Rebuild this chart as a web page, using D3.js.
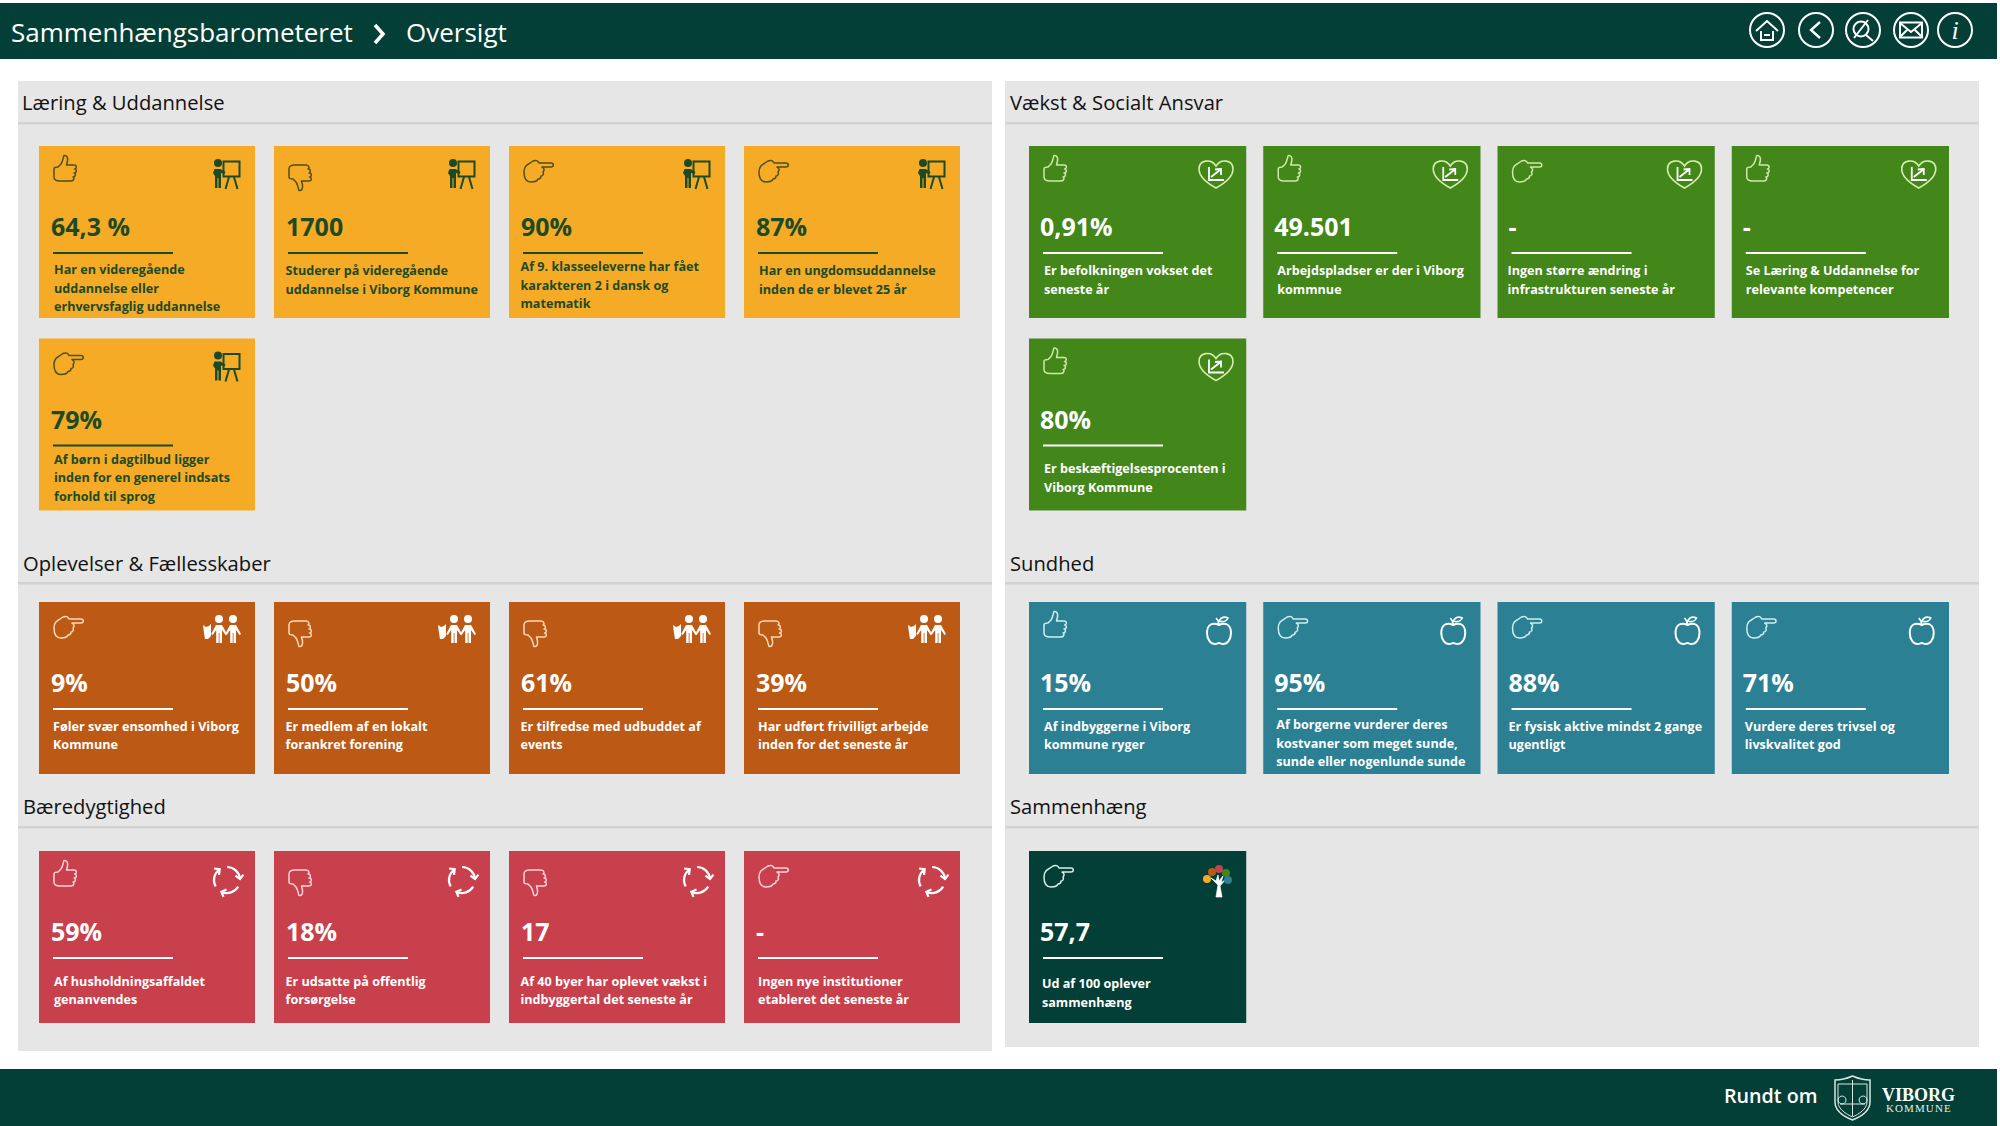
<!DOCTYPE html>
<html><head><meta charset="utf-8">
<script src="https://cdnjs.cloudflare.com/ajax/libs/d3/7.8.5/d3.min.js"></script>
<style>html,body{margin:0;padding:0;background:#fff}svg{display:block}text{font-family:"Open Sans",sans-serif}</style>
</head><body><svg id="c" width="2000" height="1126"></svg>
<script>
// ---------- data ----------
const sectionNames = ["Læring & Uddannelse","Vækst & Socialt Ansvar","Oplevelser & Fællesskaber","Sundhed","Bæredygtighed","Sammenhæng"];
const sectionTopics = ["teach","growth","people","apple","recycle","tree"];
const valuesLaering = ["64,3 %","1700","90%","87%","79%"];
const valuesVaekst = ["0,91%","49.501","-","-","80%"];
const valuesOplevelser = ["9%","50%","61%","39%"];
const valuesSundhed = ["15%","95%","88%","71%"];
const valuesBaeredygtighed = ["59%","18%","17","-"];
const valuesSammenhaeng = ["57,7"];
const handsLaering = ["up","down","right","right","right"];
const handsVaekst = ["up","up","right","up","up"];
const handsOplevelser = ["right","down","down","down"];
const handsSundhed = ["up","right","right","right"];
const handsBaeredygtighed = ["up","down","down","right"];
const handsSammenhaeng = ["right"];
const labelsLaering = [
 ["Har en videregående","uddannelse eller","erhvervsfaglig uddannelse"],
 ["Studerer på videregående","uddannelse i Viborg Kommune"],
 ["Af 9. klasseeleverne har fået","karakteren 2 i dansk og","matematik"],
 ["Har en ungdomsuddannelse","inden de er blevet 25 år"],
 ["Af børn i dagtilbud ligger","inden for en generel indsats","forhold til sprog"]];
const labelsVaekst = [
 ["Er befolkningen vokset det","seneste år"],
 ["Arbejdspladser er der i Viborg","kommnue"],
 ["Ingen større ændring i","infrastrukturen seneste år"],
 ["Se Læring & Uddannelse for","relevante kompetencer"],
 ["Er beskæftigelsesprocenten i","Viborg Kommune"]];
const labelsOplevelser = [
 ["Føler svær ensomhed i Viborg","Kommune"],
 ["Er medlem af en lokalt","forankret forening"],
 ["Er tilfredse med udbuddet af","events"],
 ["Har udført frivilligt arbejde","inden for det seneste år"]];
const labelsSundhed = [
 ["Af indbyggerne i Viborg","kommune ryger"],
 ["Af borgerne vurderer deres","kostvaner som meget sunde,","sunde eller nogenlunde sunde"],
 ["Er fysisk aktive mindst 2 gange","ugentligt"],
 ["Vurdere deres trivsel og","livskvalitet god"]];
const labelsBaeredygtighed = [
 ["Af husholdningsaffaldet","genanvendes"],
 ["Er udsatte på offentlig","forsørgelse"],
 ["Af 40 byer har oplevet vækst i","indbyggertal det seneste år"],
 ["Ingen nye institutioner","etableret det seneste år"]];
const labelsSammenhaeng = [["Ud af 100 oplever","sammenhæng"]];
const sectionValues = [valuesLaering,valuesVaekst,valuesOplevelser,valuesSundhed,valuesBaeredygtighed,valuesSammenhaeng];
const sectionHands = [handsLaering,handsVaekst,handsOplevelser,handsSundhed,handsBaeredygtighed,handsSammenhaeng];
const sectionLabels = [labelsLaering,labelsVaekst,labelsOplevelser,labelsSundhed,labelsBaeredygtighed,labelsSammenhaeng];

// ---------- style & layout ----------
const DARK="#033f36";
const fills=["#f5ab25","#43861a","#bc5a15","#2b8093","#c9404d",DARK];
const inks=["#1c4a25","#fff","#fff","#fff","#fff","#fff"];
const handInk=["#4e4f1c","#cdeaa8","#fbd9b8","#cfeef2","#fbd3d6","#d7efe6"];
const sideX=[0,1,0,1,0,1];
const rowTops=[[146,338.5],[146,338.5],[602],[602],[851],[851]];
const titleY=[110,110,571,571,814,814];
const titleX=[22,1010,23,1010,23,1010];
const labelDrop=[[128,129,125,129,125],[129,129,129,129,134.5],[128.5,128.5,128.5,128.5],[128.5,127,128.5,128.5],[134.5,134.5,134.5,134.5],[137]];
const labelInset=[[15,11.5,11.5,15,15],[15,14,10,14,15],[14,11.5,11.5,14],[15,13,11,13],[15,11.5,11.5,14],[13]];
const valueInset=[12,11,12,11,12,11];
const dividers=[123,583,827];
const cardH=172;
const xCols=[
 d3.scaleBand().domain(d3.range(4)).range([39,960]).paddingInner(19/235),
 d3.scaleBand().domain(d3.range(4)).range([1029,1949]).paddingInner(17/234)];

const svg=d3.select("#c");
// bars
svg.append("rect").attr("x",0).attr("y",3).attr("width",1997).attr("height",56).attr("fill",DARK);
svg.append("rect").attr("x",0).attr("y",1069).attr("width",1997).attr("height",57).attr("fill",DARK);
svg.append("text").attr("x",11).attr("y",42).attr("fill","#fff").attr("font-size",26).text("Sammenhængsbarometeret");
svg.append("path").attr("d","M375 25l8 9-8 9").attr("fill","none").attr("stroke","#fff").attr("stroke-width",3.5);
svg.append("text").attr("x",406).attr("y",42).attr("fill","#fff").attr("font-size",26).text("Oversigt");

// panels
[[18,974,970],[1005,974,966]].forEach(([x,w,h])=>{
 svg.append("rect").attr("x",x).attr("y",81).attr("width",w).attr("height",h).attr("fill","#e6e6e6");
 dividers.forEach(y=>svg.append("rect").attr("x",x).attr("y",y-1).attr("width",w).attr("height",2.5).attr("fill","#d2d2d2"));
});
svg.selectAll("text.sec").data(sectionNames).join("text").attr("class","sec")
 .attr("x",(d,i)=>titleX[i]).attr("y",(d,i)=>titleY[i]).attr("fill","#111").attr("font-size",20.2).text(d=>d);

// hands
const THUMB="M1 14C1 12 3 12 5 12L8 9C10 6 10 3 11 .5C14 0 15 3 14.5 6L13.5 10L21 10C24 10 24 14 21.5 14C24 14 24 18 21 18C23 18 23 22 20 22C21.5 22 21.5 26 18 26L7 26C3 26 1 25 1 22Z";
const POINT="M1 12C1 5 6 4 10 1C13-.5 15 1 16 3L28 3C31 3 31 7 28 7L19 7C21 8 22 10 20 12C21 14 20 16 18 16C18 19 16 19 15 19C14 22 11 22 8 22C3 22 1 18 1 12Z";
function hand(g,t,c){
 const a={fill:"none",stroke:c,"stroke-width":1.5,"stroke-linejoin":"round"};
 let p;
 if(t==="up"){p=g.append("path").attr("d",THUMB).attr("transform","translate(14,9)");}
 else if(t==="down"){p=g.append("path").attr("d",THUMB).attr("transform","translate(14,45) scale(1,-1)");}
 else {p=g.append("path").attr("d",POINT).attr("transform","translate(14,14)");}
 Object.entries(a).forEach(([k,v])=>p.attr(k,v));
}
// topic icons
const icons={
 teach(g,c){
  g.append("circle").attr("cx",179).attr("cy",17).attr("r",4).attr("fill",c);
  g.append("path").attr("d","M175.5 23h6l5 3-1 2-3.5-1v15h-2.5v-10h-1v10h-2.5v-12l-2-3z").attr("fill",c);
  g.append("rect").attr("x",184.5).attr("y",15.5).attr("width",16).attr("height",15).attr("fill","none").attr("stroke",c).attr("stroke-width",2);
  g.append("path").attr("d","M190 31l-3.5 12M195 31l3.5 12").attr("stroke",c).attr("stroke-width",2).attr("fill","none");
 },
 growth(g,c){
  g.append("path").attr("d","M187 42C176 36 170 30 170 23C170 14 182 12 187 20C192 12 204 14 204 23C204 30 198 36 187 42Z").attr("fill","none").attr("stroke","#d3efac").attr("stroke-width",1.6);
  g.append("path").attr("d","M180 21V34H195M182 31L191 24M186 23.5L192 23L192 29").attr("fill","none").attr("stroke",c).attr("stroke-width",1.8);
 },
 people(g,c){
  [180,194].forEach(x=>{
   g.append("circle").attr("cx",x).attr("cy",17).attr("r",4).attr("fill",c);
   g.append("path").attr("d",`M${x-3} 23h6l5 9-1.5 1-3.5-5v13h-2.5v-10h-.8v10h-2.5v-13l-3.5 5-1.5-1z`).attr("fill",c);
  });
  g.append("path").attr("d","M164 23l3 2 3-1 2-2v12l-3 3h-3l-1-6z").attr("fill",c);
 },
 apple(g,c){
  g.append("path").attr("d","M190 23C184 20 178 22 178 31C178 38 182 42 186 42C188 42 189 41 190 41C191 41 192 42 194 42C198 42 202 38 202 31C202 22 196 20 190 23Z").attr("fill","none").attr("stroke",c).attr("stroke-width",2);
  g.append("path").attr("d","M190 23C190 20 189 18 187 16M190 19C193 14 197 15 199 16C197 20 193 20 190 19Z").attr("fill","none").attr("stroke",c).attr("stroke-width",1.6);
 },
 recycle(g,c){
  const r=13, p=a=>[r*Math.sin(a),-r*Math.cos(a)];
  [0,120,240].forEach(rot=>{
   const w=g.append("g").attr("transform",`translate(188,29) rotate(${rot-8})`).attr("fill","none").attr("stroke",c).attr("stroke-width",2.2);
   const [x0,y0]=p(0.15),[x1,y1]=p(1.6);
   w.append("path").attr("d",`M${x0} ${y0}A${r} ${r} 0 0 1 ${x1} ${y1}`);
   w.append("path").attr("d",`M${x1-4} ${y1-3.5}L${x1} ${y1+.5}L${x1+4} ${y1-3.5}`);
  });
 },
 tree(g,c){
  g.append("path").attr("d","M187 46L189 34L182 27L187 30L189 24L190 30L194 25L192 32L197 28L191 35L193 46Z").attr("fill",c).attr("stroke",c).attr("stroke-width",.7);
  [[178,28,"#f5ab25"],[183,21,"#bc5a15"],[190,18,"#c9404d"],[197,22,"#43861a"],[199,29,"#2b8093"]].forEach(([x,y,f])=>
   g.append("circle").attr("cx",x).attr("cy",y).attr("r",4).attr("fill",f));
 }
};

// cards
sectionNames.forEach((name,si)=>{
 const x=xCols[sideX[si]], items=sectionValues[si].map((v,i)=>({v,i,hand:sectionHands[si][i],label:sectionLabels[si][i]}));
 const sel=svg.append("g").selectAll("g").data(items).join("g")
  .attr("transform",d=>`translate(${x(d.i%4)},${rowTops[si][Math.floor(d.i/4)]})`);
 sel.append("rect").attr("width",x.bandwidth()).attr("height",cardH).attr("fill",fills[si]);
 sel.append("text").attr("x",valueInset[si]).attr("y",90).attr("fill",inks[si]).attr("font-size",25).attr("font-weight",700).text(d=>d.v);
 sel.append("rect").attr("x",14).attr("y",106).attr("width",120).attr("height",2).attr("fill",inks[si]);
 sel.each(function(d){
  const g=d3.select(this);
  hand(g,d.hand,handInk[si]);
  icons[sectionTopics[si]](g,inks[si]);
  g.selectAll("text.l").data(d.label).join("text").attr("class","l")
   .attr("x",labelInset[si][d.i]).attr("y",(t,j)=>labelDrop[si][d.i]+j*18.7)
   .attr("fill",inks[si]).attr("font-size",12.6).attr("font-weight",700).text(t=>t);
 });
});

// header icons
const W="#fff";
[1767,1816,1863,1911,1955].forEach((cx,i)=>{
 const g=svg.append("g").attr("transform",`translate(${cx},30)`).attr("fill","none").attr("stroke",W).attr("stroke-width",2);
 g.append("circle").attr("r",17);
 if(i===0)g.append("path").attr("d","M-11 1L0-9L11 1M-6 1V10H6V1M-3 5H3");
 if(i===1)g.append("path").attr("d","M4-8L-5 0L4 8").attr("stroke-width",2.4);
 if(i===2){g.append("circle").attr("cx",-2).attr("cy",-1).attr("r",7.5);g.append("path").attr("d","M3 5L10 11M-9 8L5-10");}
 if(i===3){g.append("rect").attr("x",-11).attr("y",-7.5).attr("width",22).attr("height",15);g.append("path").attr("d","M-11-7L0 2L11-7M-11 7L-3-1M11 7L3-1");}
 if(i===4)g.append("text").attr("text-anchor","middle").attr("y",9).attr("font-size",26).attr("font-style","italic").attr("fill",W).attr("stroke","none").style("font-family","'Liberation Serif',serif").text("i");
});

// footer
svg.append("text").attr("x",1724).attr("y",1103).attr("fill","#fff").attr("font-size",19.7).attr("font-weight",600).text("Rundt om");
const sh=svg.append("g").attr("transform","translate(1834,1076)").attr("fill","none").attr("stroke","#d8e8df");
sh.append("path").attr("d","M1 4C10 4 14 2 18.5 0C23 2 27 4 36 4V26C36 36 26 41 18.5 44C11 41 1 36 1 26Z").attr("stroke-width",1.5);
sh.append("path").attr("d","M4 8H33V26C33 33 25 38 18.5 41C12 38 4 33 4 26ZM18.5 4V40M8 20a4 4 0 1 0 .1 0M29 20a4 4 0 1 0 .1 0M6 28H31").attr("stroke-width",1);
svg.append("text").attr("x",1882).attr("y",1101).attr("fill","#fff").attr("font-size",18).attr("font-weight",700).style("font-family","'Liberation Serif',serif").text("VIBORG");
svg.append("text").attr("x",1886).attr("y",1112).attr("fill","#e6efe9").attr("font-size",11).attr("letter-spacing",1.1).style("font-family","'Liberation Serif',serif").text("KOMMUNE");
</script></body></html>
